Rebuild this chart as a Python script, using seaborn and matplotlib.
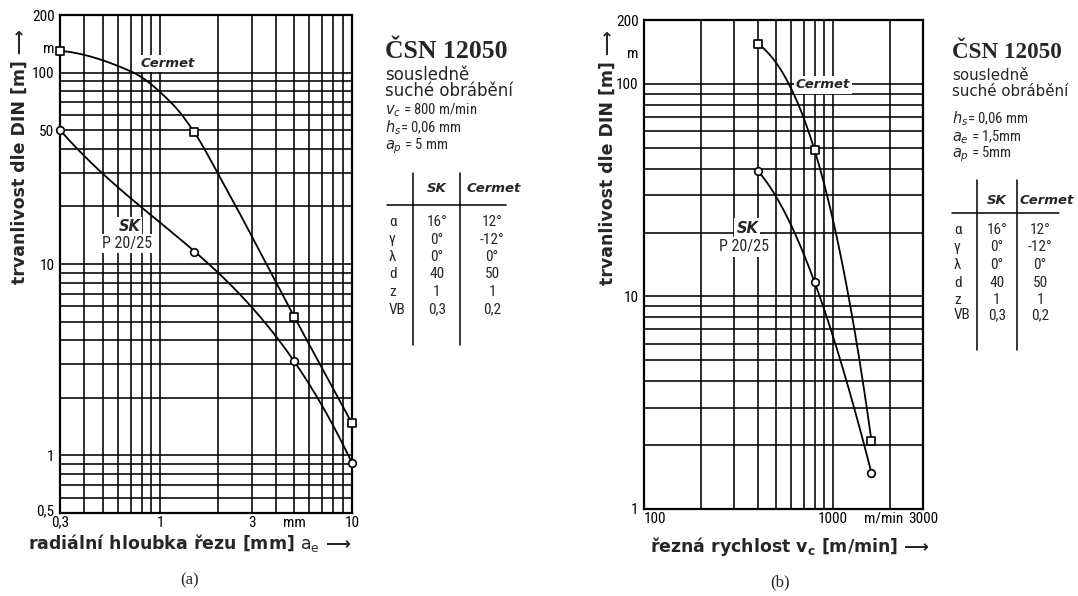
import numpy as np
import matplotlib
matplotlib.use("Agg")
import matplotlib.pyplot as plt
import seaborn as sns
from matplotlib.ticker import LogLocator, NullFormatter
from matplotlib.lines import Line2D
from matplotlib import font_manager

# ---------------- data ----------------
# (a) tool life vs radial depth of cut
ae_marks = [0.3, 1.5, 5, 10]
cermet_a_marks = [130, 49, 5.3, 1.47]
sk_a_marks = [50, 11.6, 3.1, 0.91]
cermet_a_curve_x = [0.3, 0.71, 1.15, 1.5, 2.0, 5.0, 10]
cermet_a_curve_y = [130, 101, 69, 49, 29.7, 5.3, 1.47]
sk_a_curve_x = [0.3, 0.405, 0.6, 0.95, 1.5, 2.0, 3.0, 3.5, 5.0, 7.0, 8.3, 10]
sk_a_curve_y = [50, 39.3, 27.4, 20, 11.6, 8.7, 6.1, 5.0, 3.1, 2.05, 1.41, 0.91]

# (b) tool life vs cutting speed
vc_marks = [400, 800, 1600]
cermet_b_marks = [155, 49, 2.1]
sk_b_marks = [39, 11.7, 1.48]
cermet_b_curve_x = [400, 503, 592, 683, 800, 926, 1089, 1389, 1537, 1600]
cermet_b_curve_y = [155, 127, 93.7, 71.4, 49, 29, 15.7, 5.0, 2.72, 2.1]
sk_b_curve_x = [400, 503, 592, 683, 800, 889, 1089, 1335, 1600]
sk_b_curve_y = [39, 30, 21.7, 16.2, 11.7, 8.95, 5.0, 2.72, 1.48]

# ticks
a_xticks = [0.3, 1, 3, 5, 10]
a_xticklabels = ["0,3", "1", "3", "mm", "10"]
a_yticks = [200, 135, 100, 50, 10, 1, 0.52]
a_yticklabels = ["200", "m", "100", "50", "10", "1", "0,5"]
b_xticks = [100, 1000, 1850, 3000]
b_xticklabels = ["100", "1000", "m/min", "3000"]
b_yticks = [200, 140, 100, 10, 1]
b_yticklabels = ["200", "m", "100", "10", "1"]

table_rows = ["α", "γ", "λ", "d", "z", "VB"]
table_sk = ["16°", "0°", "0°", "40", "1", "0,3"]
table_cermet = ["12°", "-12°", "0°", "50", "1", "0,2"]

# ---------------- setup ----------------
sns.set_theme(style="white")
plt.rcParams["font.family"] = ["DejaVu Sans"]
plt.rcParams["mathtext.fontset"] = "dejavusans"


def narrow_font():
    wanted = ["Liberation Sans Narrow", "Roboto Condensed", "Open Sans Condensed",
              "DejaVu Sans Condensed", "Noto Sans Condensed"]
    entries = font_manager.fontManager.ttflist
    for name in wanted:
        for e in entries:
            if e.name == name and e.style == "normal" and e.weight in (400, "normal", "regular"):
                return font_manager.FontProperties(fname=e.fname)
    for e in entries:
        st = str(e.stretch)
        if e.style == "normal" and ("condensed" in st or st in ("500", "300", "400")) \
                and "condensed" in e.fname.lower() and "bold" not in e.fname.lower():
            return font_manager.FontProperties(fname=e.fname)
    for e in entries:
        if "condensed" in e.fname.lower() and "bold" not in e.fname.lower() \
                and "oblique" not in e.fname.lower() and "italic" not in e.fname.lower():
            return font_manager.FontProperties(fname=e.fname)
    return font_manager.FontProperties(family="Roboto")


NFP = narrow_font()


def nfp(size):
    p = NFP.copy()
    p.set_size(size)
    return p


W, H = 1078, 596
fig = plt.figure(figsize=(W / 100, H / 100), dpi=100)
fig.patch.set_facecolor("white")


def fx(px):
    return px / W


def fy(py):
    return 1 - py / H


def smooth_poly(cx, cy, mx, deg=3, n=300):
    """weighted least-squares polynomial through the read points in log-log space"""
    lx = np.log10(np.asarray(cx, float))
    ly = np.log10(np.asarray(cy, float))
    w = np.array([6.0 if np.any(np.isclose(v, mx)) else 1.0 for v in cx])
    coef = np.polyfit(lx, ly, deg, w=w)
    xn = np.linspace(lx[0], lx[-1], n)
    return 10**xn, 10**np.polyval(coef, xn)


def smooth_pchip(cx, cy, mx=None, deg=None, n=300):
    """monotone cubic Hermite through the read points in log-log space"""
    x = np.log10(np.asarray(cx, float))
    y = np.log10(np.asarray(cy, float))
    h = np.diff(x)
    d = np.diff(y) / h
    m = np.zeros_like(y)
    m[0] = d[0] * 0.3
    m[-1] = d[-1]
    for k in range(1, len(x) - 1):
        if d[k - 1] * d[k] > 0:
            w1 = 2 * h[k] + h[k - 1]
            w2 = h[k] + 2 * h[k - 1]
            m[k] = (w1 + w2) / (w1 / d[k - 1] + w2 / d[k])
    xn = np.linspace(x[0], x[-1], n)
    idx = np.clip(np.searchsorted(x, xn) - 1, 0, len(x) - 2)
    t = (xn - x[idx]) / h[idx]
    h00 = 2 * t**3 - 3 * t**2 + 1
    h10 = t**3 - 2 * t**2 + t
    h01 = -2 * t**3 + 3 * t**2
    h11 = t**3 - t**2
    yn = h00 * y[idx] + h10 * h[idx] * m[idx] + h01 * y[idx + 1] + h11 * h[idx] * m[idx + 1]
    return 10**xn, 10**yn


def style_axes(ax, xlim, ylim, xt, xtl, yt, ytl):
    ax.set_xscale("log")
    ax.set_yscale("log")
    ax.set_xlim(*xlim)
    ax.set_ylim(*ylim)
    for axis in (ax.xaxis, ax.yaxis):
        axis.set_minor_locator(LogLocator(base=10, subs=np.arange(1, 10), numticks=60))
        axis.set_minor_formatter(NullFormatter())
        axis.remove_overlapping_locs = False
    ax.set_xticks(xt)
    ax.set_xticklabels(xtl)
    ax.set_yticks(yt)
    ax.set_yticklabels(ytl)
    ax.set_axisbelow(True)
    ax.grid(False, which="major")
    ax.grid(True, which="minor", color="black", lw=1.15)
    ax.tick_params(which="both", length=0, colors="black")
    ax.tick_params(axis="x", pad=2)
    ax.tick_params(axis="y", pad=4)
    for lbl in ax.get_xticklabels() + ax.get_yticklabels():
        lbl.set_fontproperties(nfp(11))
    for sp in ax.spines.values():
        sp.set_color("black")
        sp.set_linewidth(1.6)
        sp.set_visible(True)
    ax.set_xlabel("")
    ax.set_ylabel("")
    ax.set_facecolor("white")


def draw_series(ax, cx, cy, mx, my, marker, method, deg=3):
    sx, sy = method(cx, cy, mx, deg)
    sns.lineplot(x=sx, y=sy, ax=ax, color="black", lw=1.3, estimator=None,
                 sort=False, zorder=3, clip_on=False)
    sns.scatterplot(x=mx, y=my, ax=ax, marker=marker, s=30, color="white",
                    edgecolor="black", linewidth=1.2, zorder=4, clip_on=False)


box = dict(facecolor="white", edgecolor="none", pad=1.5)

# ---------------- (a) ----------------
axA = fig.add_axes([fx(60), fy(513), fx(292), 498 / H])
draw_series(axA, cermet_a_curve_x, cermet_a_curve_y, ae_marks, cermet_a_marks, "s",
            smooth_pchip)
draw_series(axA, sk_a_curve_x, sk_a_curve_y, ae_marks, sk_a_marks, "o", smooth_poly, 3)
style_axes(axA, (0.3, 10), (0.5, 200), a_xticks, a_xticklabels, a_yticks, a_yticklabels)
axA.text(1.09, 112, "Cermet", ha="center", va="center", fontsize=9.5,
         weight="bold", style="italic", bbox=box, zorder=2)
axA.text(0.69, 15.7, "SK", ha="center", va="center", fontsize=10.5,
         weight="bold", style="italic", bbox=box, zorder=2)
axA.text(0.67, 12.8, "P 20/25", ha="center", va="center", fontproperties=nfp(11.5),
         bbox=box, zorder=2)

fig.text(fx(20), fy(157), "trvanlivost dle DIN [m] ⟶", rotation=90, ha="center",
         va="center", fontsize=12.5, weight="bold")
fig.text(fx(190), fy(543), "radiální hloubka řezu [mm] $\\mathrm{a_e}$ ⟶", ha="center",
         va="center", fontsize=12.5, weight="bold")
fig.text(fx(190), fy(580), "(a)", ha="center", va="center", fontsize=12,
         family="Liberation Serif")

# ---------------- (b) ----------------
axB = fig.add_axes([fx(644), fy(509), fx(279), 489 / H])
draw_series(axB, cermet_b_curve_x, cermet_b_curve_y, vc_marks, cermet_b_marks, "s",
            smooth_poly, 3)
draw_series(axB, sk_b_curve_x, sk_b_curve_y, vc_marks, sk_b_marks, "o", smooth_poly, 3)
style_axes(axB, (100, 3000), (1, 200), b_xticks, b_xticklabels, b_yticks, b_yticklabels)
xl = axB.get_xticklabels()
xl[0].set_ha("left")
axB.text(885, 99, "Cermet", ha="center", va="center", fontsize=9.5,
         weight="bold", style="italic", bbox=box, zorder=2)
axB.text(352, 21, "SK", ha="center", va="center", fontsize=10.5,
         weight="bold", style="italic", bbox=box, zorder=2)
axB.text(338, 17.1, "P 20/25", ha="center", va="center", fontproperties=nfp(11.5),
         bbox=box, zorder=2)

fig.text(fx(608), fy(158), "trvanlivost dle DIN [m] ⟶", rotation=90, ha="center",
         va="center", fontsize=12.5, weight="bold")
fig.text(fx(790), fy(546), "řezná rychlost $\\mathbf{v_c}$ [m/min] ⟶", ha="center",
         va="center", fontsize=12.5, weight="bold")
fig.text(fx(780), fy(582), "(b)", ha="center", va="center", fontsize=12,
         family="Liberation Serif")


# ---------------- parameter blocks ----------------
def block(x0, scale, params, param_ys, top, lines_y, col_sk, col_cm, hd_cm, vline1, vline2,
          hline_x1, hline_x2, header_y, row_ys, bottom):
    fig.text(fx(x0), fy(52), "ČSN 12050", family="Liberation Serif", weight="bold",
             fontsize=18.5 * scale, va="center", ha="left")
    fig.text(fx(x0), fy(75), "sousledně", fontsize=12 * scale, va="center", ha="left")
    fig.text(fx(x0), fy(91), "suché obrábění", fontsize=12 * scale, va="center", ha="left")
    for txt, yy in zip(params, param_ys):
        fig.text(fx(x0), fy(yy), txt, fontproperties=nfp(10.5), va="center", ha="left")
    for vx in (vline1, vline2):
        fig.add_artist(Line2D([fx(vx), fx(vx)], [fy(top), fy(bottom)], color="black",
                              lw=1.1, transform=fig.transFigure))
    fig.add_artist(Line2D([fx(hline_x1), fx(hline_x2)], [fy(lines_y), fy(lines_y)],
                          color="black", lw=1.1, transform=fig.transFigure))
    fig.text(fx(col_sk), fy(header_y), "SK", fontsize=9.5, weight="bold", style="italic",
             ha="center", va="center")
    fig.text(fx(hd_cm), fy(header_y), "Cermet", fontsize=9.5, weight="bold",
             style="italic", ha="center", va="center")
    for r, s, c, yy in zip(table_rows, table_sk, table_cermet, row_ys):
        fig.text(fx(hline_x1 + 2), fy(yy), r, fontproperties=nfp(11), ha="left", va="center")
        fig.text(fx(col_sk), fy(yy), s, fontproperties=nfp(11), ha="center", va="center")
        fig.text(fx(col_cm), fy(yy), c, fontproperties=nfp(11), ha="center", va="center")


block(385, 1.0, ["$v_c$ = 800 m/min", "$h_s$= 0,06 mm", "$a_p$ = 5 mm"], [110, 128, 146],
      173, 205, 437, 492, 494, 413, 460, 387, 506, 189,
      [222, 239.5, 257, 274.5, 292, 309.5], 345)
block(952, 0.9, ["$h_s$= 0,06 mm", "$a_e$ = 1,5mm", "$a_p$ = 5mm"], [119, 137, 154],
      180, 213, 997, 1040, 1047, 977, 1017, 952, 1059, 200,
      [230, 247, 265, 283, 300, 315], 350)

fig.savefig("out.png", dpi=100, facecolor="white")
